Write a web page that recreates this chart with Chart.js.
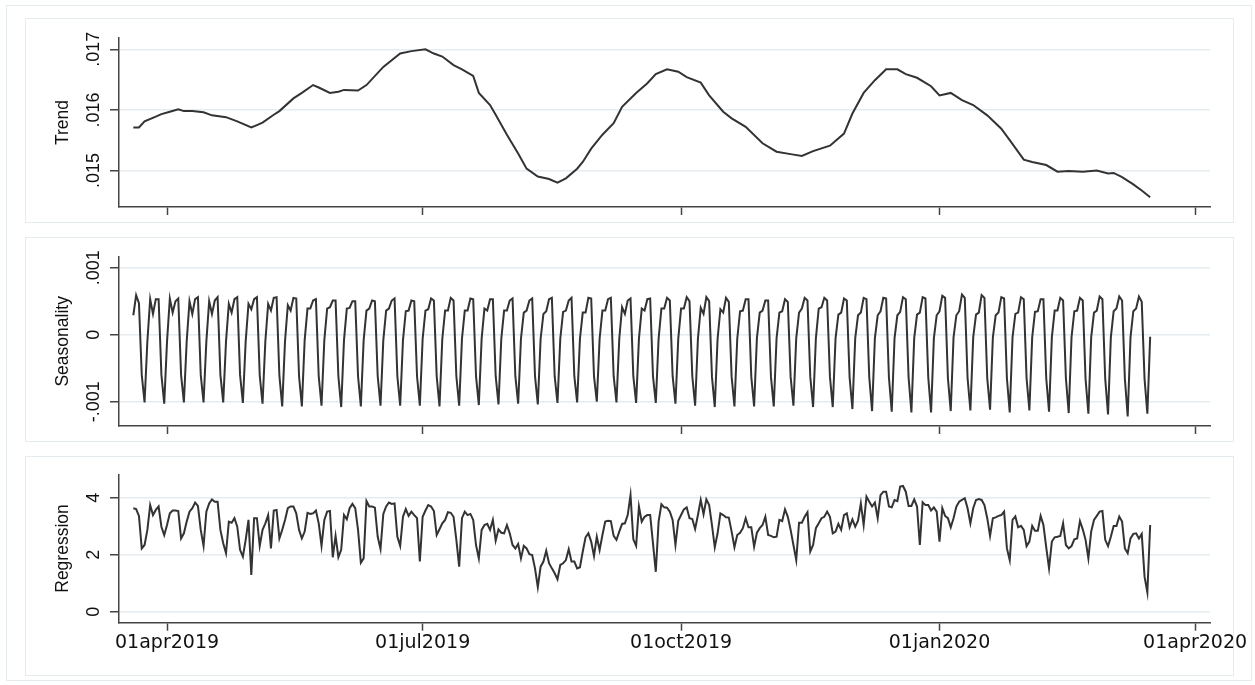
<!DOCTYPE html>
<html>
<head>
<meta charset="utf-8">
<title>Trend / Seasonality / Regression</title>
<script src="https://cdn.jsdelivr.net/npm/chart.js@4.4.1/dist/chart.umd.min.js"></script>
<style>
  html, body { margin: 0; padding: 0; background: #fff; }
  #page { position: relative; width: 1255px; height: 685px; overflow: hidden; }
  .frame { position: absolute; border: 1px solid #e4ecef; box-sizing: border-box; }
  canvas { position: absolute; left: 0; }
</style>
</head>
<body>
<div id="page">
  <div class="frame" style="left:6px; top:5px; width:1246px; height:676px;"></div>
  <div class="frame" style="left:25px; top:18px; width:1209px; height:205px;"></div>
  <div class="frame" style="left:25px; top:237px; width:1209px; height:205px;"></div>
  <div class="frame" style="left:25px; top:456px; width:1209px; height:220px;"></div>
  <canvas id="trend-canvas"></canvas>
  <canvas id="season-canvas"></canvas>
  <canvas id="regress-canvas"></canvas>
</div>
<script>
// x values are days counted from 01apr2019
const firstDay = -12;   // 20mar2019, first daily observation
const xMin = -17.1;
const xMax = 371.3;
const tickDays = [0, 91, 183, 275, 366];
const tickLabels = ['01apr2019', '01jul2019', '01oct2019', '01jan2020', '01apr2020'];

// trend at irregular days
const trendDays = [-12, -10, -8, -4, -2, 1, 4, 6, 9, 13, 16, 21, 25, 30, 32, 34, 38, 40, 45, 48,
    52, 54, 58, 61, 63, 68, 71, 77, 83, 87, 92, 95, 98, 102, 105, 109, 111, 115, 117, 121,
    125, 128, 132, 136, 139, 142, 146, 148, 151, 155, 159, 162, 167, 171, 174, 178, 182, 185, 190, 193,
    198, 201, 206, 212, 217, 222, 226, 230, 236, 241, 244, 248, 252, 256, 260, 263, 267, 272, 275, 279,
    283, 287, 292, 297, 300, 305, 308, 313, 317, 321, 326, 331, 335, 337, 340, 344, 347, 350];
const trendValues = [.01571, .01571, .01581, .01589, .01593, .01597, .01601, .01598, .01598, .01596,
    .01591, .01588, .01581, .01571, .01575, .01579, .01592, .01598, .01619, .01628,
    .01641, .01637, .01628, .0163, .01633, .01632, .01641, .01671, .01693, .01697,
    .017, .01693, .01688, .01674, .01667, .01656, .01628, .01608, .01592, .01559,
    .01528, .01503, .0149, .01486, .0148, .01487, .01503, .01514, .01536, .01559,
    .01578, .01605, .01628, .01644, .01659, .01667, .01663, .01654, .01645, .01624,
    .01597, .01586, .01572, .01545, .01531, .01527, .01524, .01532, .01541, .01561,
    .01594, .01628, .01649, .01667, .01667, .01659, .01653, .01639, .01624, .01628,
    .01616, .01608, .01591, .01569, .0155, .01518, .01514, .01509, .01498, .01499,
    .01498, .015, .01495, .01496, .01489, .01477, .01467, .01456];
const trendTicks = [0.015, 0.016, 0.017];
const trendTickLabels = ['.015', '.016', '.017'];

// daily seasonality from firstDay, one week per line after the first partial week
const seasonality = [
    0.00029, 0.00059, 0.00047, -0.0006,
    -0.00101, -0.0001, 0.00053, 0.00031, 0.00053, 0.00053, -0.0006,
    -0.00103, -0.0001, 0.00054, 0.00033, 0.0005, 0.00054, -0.0006,
    -0.00101, -0.0001, 0.0005, 0.00031, 0.00053, 0.00056, -0.0006,
    -0.00101, -0.0001, 0.0005, 0.00031, 0.00051, 0.00056, -0.0006,
    -0.00101, -0.0001, 0.00046, 0.00033, 0.00053, 0.00056, -0.0006,
    -0.00102, -0.0001, 0.00046, 0.00038, 0.00053, 0.00056, -0.00061,
    -0.00103, -0.0001, 0.00046, 0.00036, 0.00055, 0.00056, -0.00061,
    -0.00107, -0.0001, 0.00044, 0.00036, 0.00055, 0.00054, -0.00062,
    -0.00107, -0.00008, 0.00039, 0.00039, 0.00051, 0.00053, -0.00062,
    -0.00106, -0.00008, 0.00039, 0.00041, 0.00051, 0.00051, -0.00062,
    -0.00108, -0.00008, 0.00039, 0.0004, 0.0005, 0.0005, -0.00062,
    -0.00107, -0.00008, 0.00036, 0.00039, 0.00051, 0.0005, -0.00062,
    -0.00106, -0.00008, 0.00036, 0.00039, 0.00051, 0.00054, -0.00062,
    -0.00106, -0.00008, 0.00035, 0.00036, 0.00051, 0.0005, -0.00062,
    -0.00106, -0.00006, 0.00036, 0.00038, 0.00054, 0.00051, -0.00062,
    -0.00107, -0.00006, 0.00036, 0.00036, 0.00055, 0.00051, -0.00062,
    -0.00106, -0.00006, 0.00036, 0.00036, 0.00054, 0.00053, -0.00062,
    -0.00105, -0.00006, 0.00039, 0.00036, 0.00053, 0.00053, -0.00062,
    -0.00104, -0.00006, 0.00036, 0.00036, 0.00051, 0.00054, -0.00062,
    -0.00103, -0.00006, 0.00033, 0.00036, 0.00051, 0.00054, -0.00062,
    -0.00104, -0.00006, 0.00031, 0.00035, 0.00053, 0.00055, -0.00062,
    -0.00102, -0.00006, 0.00034, 0.00036, 0.00051, 0.00055, -0.00062,
    -0.00101, -0.00006, 0.00033, 0.00033, 0.00055, 0.00054, -0.00062,
    -0.001, -0.00006, 0.00036, 0.00036, 0.00053, 0.00055, -0.00062,
    -0.00101, -0.00006, 0.00041, 0.00031, 0.00051, 0.00054, -0.00062,
    -0.00102, -0.00006, 0.00039, 0.00036, 0.00053, 0.00054, -0.00062,
    -0.00102, -0.00006, 0.00039, 0.00039, 0.00055, 0.00051, -0.00062,
    -0.00103, -0.00006, 0.00039, 0.00039, 0.00056, 0.0005, -0.00062,
    -0.00106, -0.00006, 0.0004, 0.00031, 0.00056, 0.0005, -0.00063,
    -0.00108, -0.00006, 0.00038, 0.00033, 0.00055, 0.00049, -0.00063,
    -0.00107, -0.00006, 0.00035, 0.00036, 0.00053, 0.00053, -0.00063,
    -0.00107, -0.00005, 0.00033, 0.00036, 0.00051, 0.00051, -0.00063,
    -0.00107, -0.00005, 0.00033, 0.00035, 0.00053, 0.00049, -0.00063,
    -0.00106, -0.00005, 0.00033, 0.00039, 0.00055, 0.00051, -0.00063,
    -0.00108, -0.00005, 0.00039, 0.00041, 0.00055, 0.00051, -0.00063,
    -0.00108, -0.00005, 0.0003, 0.00033, 0.00054, 0.00051, -0.00064,
    -0.00111, -0.00005, 0.00029, 0.00033, 0.00055, 0.00053, -0.00064,
    -0.00114, -0.00005, 0.00029, 0.00035, 0.00055, 0.00054, -0.00064,
    -0.00115, -0.00005, 0.00029, 0.00034, 0.00056, 0.00053, -0.00064,
    -0.00116, -0.00005, 0.0003, 0.00033, 0.00056, 0.00054, -0.00064,
    -0.00116, -0.00005, 0.00029, 0.00035, 0.00058, 0.00055, -0.00065,
    -0.00114, -0.00004, 0.00029, 0.00035, 0.0006, 0.00055, -0.00065,
    -0.00113, -0.00004, 0.0003, 0.00033, 0.00059, 0.00055, -0.00065,
    -0.00112, -0.00004, 0.00029, 0.00033, 0.00056, 0.00054, -0.00065,
    -0.00116, -0.00004, 0.00031, 0.00033, 0.00056, 0.00053, -0.00065,
    -0.00113, -0.00004, 0.00034, 0.00035, 0.00053, 0.00053, -0.00065,
    -0.00115, -0.00004, 0.00036, 0.00036, 0.00055, 0.00051, -0.00065,
    -0.00117, -0.00004, 0.00035, 0.00036, 0.00055, 0.00051, -0.00066,
    -0.00118, -0.00004, 0.00033, 0.00036, 0.00057, 0.00053, -0.00066,
    -0.00119, -0.00004, 0.00035, 0.00039, 0.00057, 0.00051, -0.00066,
    -0.00122, -0.00004, 0.00035, 0.00039, 0.00057, 0.00049, -0.00066,
    -0.00118, -0.00003
];
const seasonTicks = [-0.001, 0, 0.001];
const seasonTickLabels = ['-.001', '0', '.001'];

// daily regression component from firstDay, ten days per line
const regression = [
    3.63, 3.6, 3.36, 2.22, 2.34, 2.87, 3.74, 3.39, 3.57, 3.69,
    2.98, 2.69, 3.04, 3.45, 3.55, 3.55, 3.53, 2.57, 2.75, 3.16,
    3.51, 3.63, 3.83, 3.71, 2.87, 2.31, 3.51, 3.8, 3.94, 3.86,
    3.86, 2.87, 2.4, 2.05, 3.16, 3.12, 3.28, 2.98, 2.17, 1.93,
    2.52, 3.22, 1.29, 3.28, 3.28, 2.31, 2.87, 3.1, 3.39, 2.22,
    3.55, 3.57, 2.57, 2.87, 3.22, 3.63, 3.69, 3.69, 3.45, 2.87,
    2.57, 2.81, 3.47, 3.43, 3.45, 3.55, 3.1, 2.31, 3.22, 3.51,
    3.53, 1.91, 2.66, 1.91, 2.17, 3.39, 3.24, 3.63, 3.78, 3.63,
    2.87, 1.72, 1.87, 3.88, 3.69, 3.69, 3.65, 2.63, 2.2, 3.43,
    3.69, 3.83, 3.78, 3.8, 2.63, 2.31, 3.33, 3.6, 3.36, 3.51,
    3.39, 3.28, 1.76, 3.33, 3.55, 3.74, 3.69, 3.53, 2.69, 2.89,
    3.1, 3.22, 3.49, 3.47, 3.33, 2.52, 1.58, 3.28, 3.51, 3.39,
    3.43, 3.22, 2.34, 1.87, 2.87, 3.04, 3.08, 2.87, 3.22, 2.49,
    2.89, 2.77, 2.75, 3.04, 2.75, 2.34, 2.22, 2.38, 1.87, 2.31,
    2.22, 2.02, 1.99, 1.52, 0.86, 1.58, 1.76, 2.14, 1.7, 1.52,
    1.35, 1.14, 1.64, 1.7, 1.81, 2.19, 1.76, 1.76, 1.52, 1.56,
    2.11, 2.61, 2.75, 2.46, 1.95, 2.63, 2.16, 2.69, 3.16, 3.19,
    3.18, 2.66, 2.52, 2.81, 3.08, 3.1, 3.39, 4.09, 2.54, 2.31,
    3.69, 3.16, 3.33, 3.39, 3.39, 2.4, 1.4, 3.16, 3.77, 3.66,
    3.65, 3.51, 3.22, 2.34, 3.19, 3.39, 3.59, 3.66, 3.28, 3.25,
    2.9, 3.39, 3.92, 3.42, 3.94, 3.74, 3.04, 2.26, 2.75, 3.45,
    3.39, 3.31, 3.3, 2.81, 2.26, 2.69, 2.77, 2.93, 3.28, 2.96,
    2.96, 2.28, 2.77, 2.93, 3.04, 3.33, 2.69, 2.66, 2.61, 2.63,
    3.22, 3.18, 3.59, 3.33, 2.87, 2.34, 1.81, 3.12, 3.12, 3.33,
    3.49, 2.11, 2.34, 2.93, 3.1, 3.28, 3.33, 3.51, 3.33, 2.75,
    2.81, 3.08, 2.87, 3.39, 3.45, 2.96, 3.24, 2.98, 3.19, 3.8,
    3.04, 4.04, 3.86, 3.69, 3.83, 3.28, 4.09, 4.21, 4.21, 3.69,
    3.66, 3.92, 3.88, 4.39, 4.41, 4.21, 3.71, 3.71, 3.94, 3.69,
    2.34, 3.84, 3.74, 3.74, 3.55, 3.66, 3.51, 2.46, 3.63, 3.36,
    3.28, 2.96, 3.28, 3.69, 3.86, 3.92, 3.98, 3.63, 3.1, 3.63,
    3.92, 3.95, 3.92, 3.74, 3.28, 2.66, 3.28, 3.31, 3.36, 3.39,
    3.51, 2.22, 1.81, 3.22, 3.34, 2.96, 3.01, 2.87, 2.3, 2.46,
    3.01, 2.84, 2.84, 3.36, 3.04, 2.26, 1.52, 2.46, 2.61, 2.63,
    2.66, 3.1, 2.34, 2.22, 2.3, 2.54, 2.57, 3.18, 2.89, 2.52,
    1.87, 2.81, 3.22, 3.36, 3.51, 3.53, 2.52, 2.3, 2.63, 3.01,
    3.01, 3.34, 3.16, 2.22, 2.05, 2.57, 2.73, 2.75, 2.57, 2.73,
    1.23, 0.68, 3.04
];
const regressTicks = [0, 2, 4];
const regressTickLabels = ['0', '2', '4'];

const lineColor = '#333333';
const axisColor = '#444444';
const gridColor = '#e4ecef';
const textColor = '#111111';
const plotRight = 1210;

function daily(values) {
    return values.map((v, i) => ({ x: firstDay + i, y: v }));
}

function make_panel(id, cfg) {
    const canvas = document.getElementById(id);
    canvas.width = 1255;
    canvas.height = cfg.height;
    canvas.style.top = cfg.top + 'px';

    new Chart(canvas.getContext('2d'), {
        type: 'line',
        data: {
            datasets: [{
                data: cfg.points,
                borderColor: lineColor,
                borderWidth: 2,
                pointRadius: 0,
                tension: 0,
                fill: false
            }]
        },
        options: {
            responsive: false,
            animation: false,
            events: [],
            layout: {
                padding: { left: 0, right: 1255 - plotRight, top: cfg.areaTop - cfg.top, bottom: 0 }
            },
            plugins: {
                legend: { display: false },
                tooltip: { enabled: false }
            },
            scales: {
                x: {
                    type: 'linear',
                    min: xMin,
                    max: xMax,
                    afterBuildTicks: scale => {
                        scale.ticks = tickDays.map(v => ({ value: v }));
                    },
                    afterFit: scale => {
                        scale.height = cfg.top + cfg.height - cfg.areaBottom;
                    },
                    grid: {
                        drawOnChartArea: false,
                        tickLength: 8,
                        tickColor: axisColor,
                        tickWidth: 1.5
                    },
                    border: { color: axisColor, width: 1.5 },
                    ticks: {
                        display: cfg.showDates,
                        autoSkip: false,
                        maxRotation: 0,
                        padding: 1,
                        color: textColor,
                        font: { family: 'DejaVu Sans', size: 19 },
                        callback: (v, i) => tickLabels[i]
                    }
                },
                y: {
                    min: cfg.yMin,
                    max: cfg.yMax,
                    afterBuildTicks: scale => {
                        scale.ticks = cfg.ticks.map(v => ({ value: v }));
                    },
                    afterFit: scale => {
                        scale.width = 119;
                    },
                    grid: {
                        color: gridColor,
                        lineWidth: 1.5,
                        tickLength: 9,
                        tickColor: axisColor,
                        tickWidth: 1.5
                    },
                    border: { color: axisColor, width: 1.5 },
                    ticks: {
                        minRotation: 90,
                        maxRotation: 90,
                        crossAlign: 'center',
                        padding: cfg.tickPad,
                        color: textColor,
                        font: { family: 'Liberation Sans', size: 18 },
                        callback: (v, i) => cfg.tickLabels[i]
                    },
                    title: {
                        display: true,
                        text: cfg.title,
                        color: textColor,
                        font: { family: 'Liberation Sans', size: 17.5 },
                        padding: { top: 53, bottom: 0 }
                    }
                }
            }
        }
    });
}

make_panel('trend-canvas', {
    top: 0, height: 230, areaTop: 38, areaBottom: 207,
    yMin: 0.0143977, yMax: 0.0171865,
    ticks: trendTicks, tickLabels: trendTickLabels, tickPad: -1.5,
    title: 'Trend',
    points: trendDays.map((d, i) => ({ x: d, y: trendValues[i] })),
    showDates: false
});

make_panel('season-canvas', {
    top: 230, height: 215, areaTop: 256.7, areaBottom: 426,
    yMin: -0.001363, yMax: 0.001164,
    ticks: seasonTicks, tickLabels: seasonTickLabels, tickPad: -4.5,
    title: 'Seasonality',
    points: daily(seasonality),
    showDates: false
});

make_panel('regress-canvas', {
    top: 445, height: 240, areaTop: 474.3, areaBottom: 622.7,
    yMin: -0.386, yMax: 4.82,
    ticks: regressTicks, tickLabels: regressTickLabels, tickPad: 10.5,
    title: 'Regression',
    points: daily(regression),
    showDates: true
});
</script>
</body>
</html>
